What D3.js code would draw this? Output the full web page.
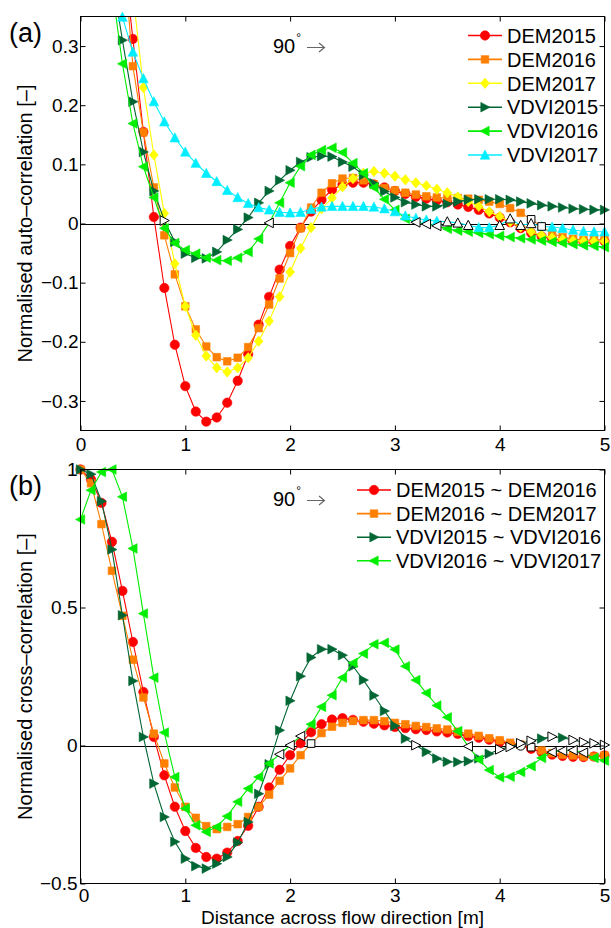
<!DOCTYPE html>
<html>
<head>
<meta charset="utf-8">
<script src="https://cdn.jsdelivr.net/npm/d3@7"></script>
<style>
  body { margin: 0; background: #fff; }
  svg text { font-family: "Liberation Sans", Arial, Helvetica, sans-serif; fill: #000; }
</style>
</head>
<body>
<svg id="chart" width="611" height="928"></svg>
<script>
// lag grid [m]
const lag = d3.range(51).map(i => i / 10)
const xTicks = [0, 1, 2, 3, 4, 5]
const yTicksA = [-0.3, -0.2, -0.1, 0, 0.1, 0.2, 0.3]
const yTicksB = [-0.5, 0, 0.5, 1]

// (a) normalised auto-correlation
const dem2015 = [1, 0.93, 0.8, 0.64, 0.47, 0.312, 0.155, 0.011, -0.109, -0.205,
  -0.275, -0.318, -0.335, -0.328, -0.303, -0.266, -0.221, -0.171, -0.124, -0.078,
  -0.038, -0.007, 0.02, 0.04, 0.057, 0.066, 0.069, 0.069, 0.066, 0.061,
  0.055, 0.05, 0.045, 0.042, 0.039, 0.036, 0.032, 0.028, 0.023, 0.017,
  0.01, 0.002, -0.008, -0.016, -0.022, -0.026, -0.028, -0.03, -0.031, -0.031, -0.03]
const dem2016 = [1, 0.94, 0.82, 0.66, 0.48, 0.266, 0.154, 0.061, -0.02, -0.086,
  -0.14, -0.179, -0.208, -0.226, -0.233, -0.227, -0.209, -0.177, -0.137, -0.093,
  -0.05, -0.008, 0.027, 0.052, 0.068, 0.076, 0.077, 0.073, 0.066, 0.06,
  0.056, 0.052, 0.049, 0.046, 0.044, 0.043, 0.043, 0.042, 0.04, 0.037,
  0.033, 0.026, 0.018, 0.007, -0.005, -0.017, -0.023, -0.026, -0.028, -0.028, -0.027]
const dem2017 = [1, 0.95, 0.84, 0.7, 0.54, 0.39, 0.23, 0.116, 0.017, -0.068,
  -0.14, -0.189, -0.224, -0.244, -0.251, -0.244, -0.227, -0.199, -0.165, -0.124,
  -0.082, -0.042, -0.007, 0.025, 0.043, 0.062, 0.076, 0.085, 0.088, 0.085,
  0.08, 0.074, 0.069, 0.064, 0.058, 0.052, 0.045, 0.037, 0.029, 0.02,
  0.012, 0.003, -0.006, -0.014, -0.02, -0.024, -0.027, -0.029, -0.03, -0.03, -0.03]
const vdvi2015 = [1, 0.8, 0.6, 0.42, 0.31, 0.206, 0.121, 0.055, 0.005, -0.031,
  -0.051, -0.058, -0.059, -0.048, -0.028, -0.01, 0.01, 0.035, 0.055, 0.073,
  0.09, 0.104, 0.112, 0.114, 0.113, 0.104, 0.096, 0.082, 0.068, 0.054,
  0.044, 0.036, 0.032, 0.029, 0.029, 0.033, 0.037, 0.04, 0.041, 0.041,
  0.041, 0.04, 0.037, 0.034, 0.031, 0.029, 0.027, 0.025, 0.024, 0.023, 0.023]
const vdvi2016 = [1, 0.78, 0.57, 0.4, 0.27, 0.169, 0.096, 0.044, -0.008, -0.033,
  -0.045, -0.051, -0.058, -0.062, -0.063, -0.058, -0.048, -0.026, 0.001, 0.035,
  0.069, 0.097, 0.116, 0.124, 0.128, 0.12, 0.102, 0.085, 0.061, 0.041,
  0.023, 0.008, 0.002, -0.001, -0.004, -0.009, -0.012, -0.014, -0.016, -0.018,
  -0.021, -0.023, -0.025, -0.027, -0.029, -0.031, -0.033, -0.035, -0.037, -0.038, -0.04]
const vdvi2017 = [1, 0.8, 0.62, 0.46, 0.349, 0.29, 0.245, 0.206, 0.172, 0.145,
  0.121, 0.102, 0.085, 0.071, 0.056, 0.044, 0.034, 0.027, 0.023, 0.019,
  0.018, 0.019, 0.024, 0.028, 0.029, 0.029, 0.029, 0.029, 0.028, 0.025,
  0.02, 0.013, 0.009, 0.006, 0.004, 0.003, 0.001, -0.003, -0.007, -0.007,
  -0.003, 0.008, -0.003, 0.0, -0.005, -0.006, -0.008, -0.011, -0.013, -0.014, -0.014]
// lags drawn as open (black edged) markers
const dem2016Open = [4.3, 4.4]
const vdvi2015Open = [0.8]
const vdvi2016Open = [1.8, 3.2, 3.3, 3.4]
const vdvi2017Open = [3.5, 3.6, 3.7, 4.0, 4.1, 4.2, 4.3]

// (b) normalised cross-correlation
const dem1516 = [1, 0.964, 0.879, 0.738, 0.56, 0.375, 0.194, 0.031, -0.108, -0.222,
  -0.31, -0.371, -0.404, -0.41, -0.388, -0.346, -0.291, -0.222, -0.152, -0.088,
  -0.035, 0.008, 0.048, 0.077, 0.094, 0.099, 0.093, 0.086, 0.079, 0.073,
  0.067, 0.063, 0.059, 0.056, 0.051, 0.047, 0.042, 0.034, 0.028, 0.021,
  0.013, 0.005, 0.0, -0.012, -0.024, -0.033, -0.038, -0.041, -0.042, -0.04, -0.036]
const dem1617 = [1, 0.95, 0.802, 0.633, 0.47, 0.311, 0.174, 0.043, -0.065, -0.152,
  -0.222, -0.262, -0.292, -0.303, -0.295, -0.285, -0.259, -0.222, -0.178, -0.128,
  -0.083, -0.035, 0.007, 0.045, 0.068, 0.082, 0.089, 0.092, 0.092, 0.088,
  0.082, 0.077, 0.071, 0.067, 0.062, 0.058, 0.05, 0.043, 0.035, 0.026,
  0.019, 0.01, 0.003, -0.006, -0.018, -0.028, -0.033, -0.036, -0.04, -0.04, -0.036]
const vdvi1516 = [1, 0.983, 0.885, 0.71, 0.472, 0.234, 0.031, -0.138, -0.259, -0.349,
  -0.41, -0.437, -0.446, -0.428, -0.404, -0.352, -0.277, -0.175, -0.068, 0.055,
  0.162, 0.251, 0.319, 0.349, 0.349, 0.327, 0.287, 0.237, 0.181, 0.125,
  0.071, 0.025, 0.001, -0.023, -0.047, -0.059, -0.06, -0.057, -0.047, -0.03,
  -0.014, -0.005, 0.008, 0.017, 0.025, 0.032, 0.028, 0.02, 0.012, 0.008, 0.002]
const vdvi1617 = [0.819, 0.925, 0.991, 1.0, 0.901, 0.714, 0.478, 0.246, 0.047, -0.114,
  -0.228, -0.289, -0.313, -0.295, -0.256, -0.204, -0.156, -0.114, -0.065, -0.032,
  0.001, 0.034, 0.077, 0.14, 0.182, 0.246, 0.299, 0.333, 0.367, 0.372,
  0.348, 0.287, 0.237, 0.19, 0.145, 0.102, 0.052, -0.003, -0.051, -0.089,
  -0.115, -0.113, -0.096, -0.075, -0.045, -0.024, -0.019, -0.017, -0.026, -0.045, -0.055]
const dem1516Open = [4.2]
const dem1617Open = [2.2, 4.3]
const vdvi1516Open = [3.2, 4.0, 4.1, 4.2, 4.3, 4.5, 4.7, 4.8, 4.9, 5.0]
const vdvi1617Open = [1.9, 2.0, 2.1, 3.7, 4.5, 4.6, 4.7, 4.8]

const red = '#ff0000', orange = '#ff8000', yellow = '#ffff00'
const dkgreen = '#006633', green = '#00ee00', cyan = '#00eeff'

const autoSeries = [
  { name: 'DEM2015', color: red, mark: 'circle', values: dem2015, open: [] },
  { name: 'DEM2016', color: orange, mark: 'square', values: dem2016, open: dem2016Open },
  { name: 'DEM2017', color: yellow, mark: 'diamond', values: dem2017, open: [] },
  { name: 'VDVI2015', color: dkgreen, mark: 'right', values: vdvi2015, open: vdvi2015Open },
  { name: 'VDVI2016', color: green, mark: 'left', values: vdvi2016, open: vdvi2016Open },
  { name: 'VDVI2017', color: cyan, mark: 'up', values: vdvi2017, open: vdvi2017Open }
]
const crossSeries = [
  { name: 'DEM2015 ~ DEM2016', color: red, mark: 'circle', values: dem1516, open: dem1516Open },
  { name: 'DEM2016 ~ DEM2017', color: orange, mark: 'square', values: dem1617, open: dem1617Open },
  { name: 'VDVI2015 ~ VDVI2016', color: dkgreen, mark: 'right', values: vdvi1516, open: vdvi1516Open },
  { name: 'VDVI2016 ~ VDVI2017', color: green, mark: 'left', values: vdvi1617, open: vdvi1617Open }
]

function markPath(type) {
  const r = 4.7
  switch (type) {
    case 'circle': return `M${r},0A${r},${r} 0 1,1 ${-r},0A${r},${r} 0 1,1 ${r},0Z`
    case 'square': return 'M-3.8,-3.8H3.8V3.8H-3.8Z'
    case 'diamond': return 'M0,-5.2L4.4,0L0,5.2L-4.4,0Z'
    case 'right': return 'M5,0L-4.2,-4.8L-4.2,4.8Z'
    case 'left': return 'M-5,0L4.2,-4.8L4.2,4.8Z'
    case 'up': return 'M0,-5L4.8,4.2L-4.8,4.2Z'
  }
}

const svg = d3.select('#chart')
const left = 80.5, right = 604.5

function panel(opts) {
  const x = d3.scaleLinear().domain([0, 5]).range([left, right])
  const y = d3.scaleLinear().domain(opts.ydom).range([opts.bottom, opts.top])
  const g = svg.append('g')

  g.append('clipPath').attr('id', opts.id)
    .append('rect').attr('x', left).attr('y', opts.top)
    .attr('width', right - left).attr('height', opts.bottom - opts.top)

  // zero line
  g.append('line')
    .attr('x1', x(0)).attr('x2', x(5))
    .attr('y1', Math.round(y(0)) + 0.5).attr('y2', Math.round(y(0)) + 0.5)
    .style('stroke', '#000').style('stroke-width', 1)

  const line = d3.line().x(d => x(d[0])).y(d => y(d[1]))
  const [lo, hi] = opts.ydom
  const isOpen = (s, t) => s.open.some(o => Math.abs(o - t) < 1e-6)

  opts.series.forEach(s => {
    const pts = lag.map((t, i) => [t, s.values[i]])
    g.append('path')
      .attr('d', line(pts))
      .attr('clip-path', `url(#${opts.id})`)
      .style('fill', 'none').style('stroke', s.color).style('stroke-width', 1.1)

    g.selectAll(null)
      .data(pts.filter(p => p[1] <= hi + 0.002 && p[1] >= lo - 0.002 && !isOpen(s, p[0])))
      .enter().append('path')
      .attr('d', markPath(s.mark))
      .attr('transform', p => `translate(${x(p[0])},${y(p[1])})`)
      .style('fill', s.color).style('stroke', s.color).style('stroke-width', 0.6)
  })

  // open markers on top
  opts.series.forEach(s => {
    const pts = lag.map((t, i) => [t, s.values[i]]).filter(p => isOpen(s, p[0]))
    g.selectAll(null)
      .data(pts)
      .enter().append('path')
      .attr('d', markPath(s.mark))
      .attr('transform', p => `translate(${x(p[0])},${y(p[1])})`)
      .style('fill', '#fff').style('stroke', '#000').style('stroke-width', 1)
  })

  // box and inward ticks on all sides
  g.append('rect')
    .attr('x', left).attr('y', opts.top)
    .attr('width', right - left).attr('height', opts.bottom - opts.top)
    .style('fill', 'none').style('stroke', '#000').style('stroke-width', 1)

  const fmt = d3.format('~g')
  const xb = g.append('g').attr('transform', `translate(0,${opts.bottom})`)
    .call(d3.axisBottom(x).tickValues(xTicks).tickSizeInner(-5).tickSizeOuter(0).tickPadding(opts.xpad).tickFormat(fmt))
  const xt = g.append('g').attr('transform', `translate(0,${opts.top})`)
    .call(d3.axisTop(x).tickValues(xTicks).tickSizeInner(-5).tickSizeOuter(0).tickFormat(''))
  const yl = g.append('g').attr('transform', `translate(${left},0)`)
    .call(d3.axisLeft(y).tickValues(opts.yticks).tickSizeInner(-5).tickSizeOuter(0).tickPadding(opts.ypad).tickFormat(fmt))
  const yr = g.append('g').attr('transform', `translate(${right},0)`)
    .call(d3.axisRight(y).tickValues(opts.yticks).tickSizeInner(-5).tickSizeOuter(0).tickFormat(''))
  ;[xb, xt, yl, yr].forEach(a => {
    a.select('.domain').remove()
    a.selectAll('line').style('stroke', '#000')
    a.selectAll('text').style('font-size', '19px').style('font-family', '"Liberation Sans", Arial, sans-serif').style('fill', '#000')
  })
  // keep the corner "0" clear of the lowest y label
  xb.selectAll('text').filter(d => d === 0).attr('dx', opts.zeroShift)

  // y label
  g.append('text')
    .attr('transform', `translate(32,${(opts.top + opts.bottom) / 2}) rotate(-90)`)
    .attr('text-anchor', 'middle')
    .style('font-size', '20px')
    .text(opts.ylabel)

  // panel tag
  g.append('text').attr('x', 9).attr('y', opts.top + 25)
    .style('font-size', '27px').text(opts.tag)

  // 90 degree note with arrow
  const ny = opts.top + 36
  const note = g.append('text').attr('x', 273).attr('y', ny).style('font-size', '20px')
  note.append('tspan').text('90')
  note.append('tspan').attr('dx', 1).attr('dy', -11).style('font-size', '12px').text('°')
  g.append('path')
    .attr('d', `M307,${ny - 5}H324M319,${ny - 9.5}L324.5,${ny - 5}L319,${ny - 0.5}`)
    .style('fill', 'none').style('stroke', '#666').style('stroke-width', 1.2)

  // legend
  const lg = g.append('g')
  opts.series.forEach((s, i) => {
    const cy = opts.legY + i * opts.legStep
    lg.append('line')
      .attr('x1', opts.legX).attr('x2', opts.legX + 34)
      .attr('y1', cy).attr('y2', cy)
      .style('stroke', s.color).style('stroke-width', 1.6)
    lg.append('path')
      .attr('d', markPath(s.mark))
      .attr('transform', `translate(${opts.legX + 17},${cy})`)
      .style('fill', s.color).style('stroke', s.color).style('stroke-width', 0.6)
    lg.append('text')
      .attr('x', opts.legX + 39).attr('y', cy + 7.2)
      .style('font-size', '20px')
      .text(s.name)
  })
}

panel({
  id: 'clipA', series: autoSeries, ydom: [-0.35, 0.35], yticks: yTicksA,
  top: 16.5, bottom: 430.5, xpad: 7, ypad: 2, zeroShift: 0,
  ylabel: 'Normalised auto–correlation [–]', tag: '(a)',
  legX: 468, legY: 35.5, legStep: 23.9
})
panel({
  id: 'clipB', series: crossSeries, ydom: [-0.5, 1], yticks: yTicksB,
  top: 469.5, bottom: 883.5, xpad: 5, ypad: 3, zeroShift: 3,
  ylabel: 'Normalised cross–correlation [–]', tag: '(b)',
  legX: 357, legY: 490, legStep: 23.6
})

svg.append('text')
  .attr('x', (left + right) / 2).attr('y', 923.5)
  .attr('text-anchor', 'middle')
  .style('font-size', '19px')
  .text('Distance across flow direction [m]')
</script>
</body>
</html>
